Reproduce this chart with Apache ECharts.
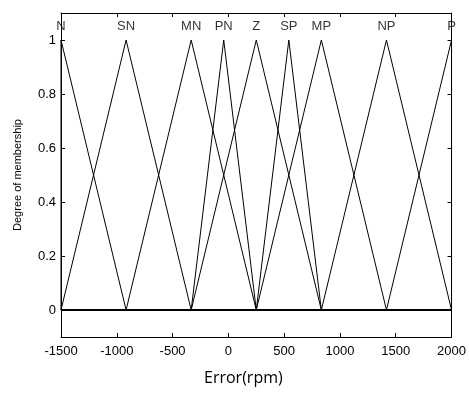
<!DOCTYPE html>
<html>
<head>
<meta charset="utf-8">
<script src="https://cdn.jsdelivr.net/npm/echarts@6/dist/echarts.min.js"></script>
<style>html,body{margin:0;padding:0;background:#fff}#c{width:469px;height:394px}</style>
</head>
<body>
<div id="c"></div>
<script>
// Membership function names and triangle parameters [left foot, peak, right foot]
const mfNames = ['N', 'SN', 'MN', 'PN', 'Z', 'SP', 'MP', 'NP', 'P'];
const mfLeft  = [-1500, -1500, -916.7, -333.3, -333.3, 250, 250, 833.3, 1416.7];
const mfPeak  = [-1500, -916.7, -333.3, -41.7, 250, 541.7, 833.3, 1416.7, 2000];
const mfRight = [-916.7, -333.3, 250, 250, 833.3, 833.3, 1416.7, 2000, 2000];
const labelLevel = 1.05;
const xTicks = [-1500, -1000, -500, 0, 500, 1000, 1500, 2000];
const yTicks = [0, 0.2, 0.4, 0.6, 0.8, 1];
const xRange = [-1500, 2000];
const yRange = [-0.1, 1.1];

const font = 'Liberation Sans, Arial, sans-serif';
const chart = echarts.init(document.getElementById('c'), null, {renderer: 'canvas'});

const series = [];
mfNames.forEach((n, i) => {
  series.push({
    name: n, type: 'line', xAxisIndex: 0, yAxisIndex: 0,
    data: [[mfLeft[i], 0], [mfPeak[i], 1], [mfRight[i], 0]],
    symbol: 'none', lineStyle: {color: '#000', width: 1}, silent: true, animation: false
  });
});
series.push({
  type: 'line', data: [[xRange[0], 0], [xRange[1], 0]], symbol: 'none',
  lineStyle: {color: '#000', width: 2}, animation: false, silent: true
});
series.push({
  type: 'scatter', symbolSize: 0, animation: false, silent: true,
  data: mfNames.map((n, i) => ({value: [mfPeak[i], labelLevel], name: n})),
  label: {show: true, position: 'inside', formatter: p => p.name, color: '#000', fontSize: 13, fontFamily: font}
});

const axCommon = {
  axisLine: {show: true, onZero: false, lineStyle: {color: '#000', width: 1}},
  splitLine: {show: false}
};

chart.setOption({
  animation: false,
  grid: {left: 61, right: 14, top: 13, bottom: 57, containLabel: false},
  xAxis: [
    Object.assign({}, axCommon, {
      type: 'value', position: 'bottom', min: xRange[0], max: xRange[1], interval: 500,
      axisTick: {show: true, inside: true, length: 4, customValues: xTicks, lineStyle: {color: '#000'}},
      axisLabel: {show: true, color: '#000', fontSize: 13, fontFamily: font, margin: 8,
        customValues: xTicks, formatter: v => String(v)}
    }),
    Object.assign({}, axCommon, {
      type: 'value', position: 'top', min: xRange[0], max: xRange[1], interval: 500,
      axisTick: {show: true, inside: true, length: 4, customValues: xTicks, lineStyle: {color: '#000'}},
      axisLabel: {show: false}
    })
  ],
  yAxis: [
    Object.assign({}, axCommon, {
      type: 'value', position: 'left', min: yRange[0], max: yRange[1],
      axisTick: {show: true, inside: true, length: 4, customValues: yTicks, lineStyle: {color: '#000'}},
      axisLabel: {show: true, color: '#000', fontSize: 13, fontFamily: font, margin: 5,
        customValues: yTicks, formatter: v => String(v)},
      name: 'Degree of membership', nameLocation: 'middle', nameGap: 38,
      nameTextStyle: {color: '#000', fontSize: 11, fontFamily: font}
    }),
    Object.assign({}, axCommon, {
      type: 'value', position: 'right', min: yRange[0], max: yRange[1],
      axisTick: {show: true, inside: true, length: 4, customValues: yTicks, lineStyle: {color: '#000'}},
      axisLabel: {show: false}
    })
  ],
  graphic: [{
    type: 'text', left: 250 - 46, top: 370,
    style: {text: 'Error(rpm)', fill: '#000', fontSize: 16, fontFamily: 'Open Sans, Carlito, sans-serif'}
  }],
  series: series
});
</script>
</body>
</html>
